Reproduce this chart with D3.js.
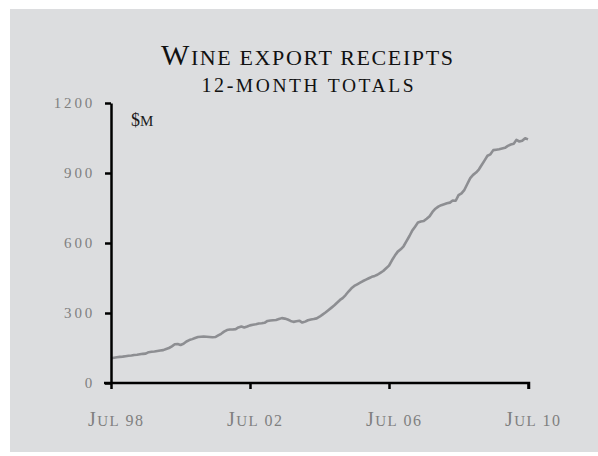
<!DOCTYPE html>
<html><head><meta charset="utf-8">
<script src="https://cdn.jsdelivr.net/npm/d3@7"></script>
<style>
html,body{margin:0;padding:0;background:#fff;}
svg text{font-family:"Liberation Serif","DejaVu Serif",serif;}
</style></head>
<body>
<svg id="chart" width="598" height="456"></svg>
<script>
const title = "Wine export receipts";
const subtitle = "12-month totals";
const unitLabel = "$m";
const startMonth = [1998, 6]; // July 1998
const values = [
106,108,110,112,113,115,117,118,120,121,123,125,
126,132,134,135,137,139,141,146,150,157,166,167,
163,168,178,184,188,193,197,198,199,198,197,196,
197,204,211,220,227,229,229,231,238,242,238,242,
247,250,252,255,256,258,266,268,269,270,274,278,
276,272,266,262,265,267,259,263,269,272,274,277,
284,293,302,312,322,332,344,356,364,377,392,406,
416,423,430,437,443,449,455,459,464,472,480,492,
503,526,546,563,573,586,608,630,652,670,688,692,
694,704,715,733,747,756,762,766,770,773,782,781,
805,813,828,853,878,892,902,916,934,954,974,980,
998,1000,1002,1005,1008,1016,1022,1025,1042,1035,1038,1049,
1044];
const yTicks = [0,300,600,900,1200];
const xTickDates = [new Date(1998,6,1), new Date(2002,6,1), new Date(2006,6,1), new Date(2010,6,1)];
const xTickLabels = ["Jul 98","Jul 02","Jul 06","Jul 10"];

const data = values.map((v,i)=>({date:new Date(startMonth[0], startMonth[1]+i, 1), value:v}));

// manual small caps: capitals big, lowercase as small capitals, other chars at 'other' size
function smallCaps(sel, str, big, small, other){
  sel.text(null);
  for (const ch of str){
    let size, t = ch;
    if (/[a-z]/.test(ch)) { size = small; t = ch.toUpperCase(); }
    else if (/[A-Z]/.test(ch)) size = big;
    else size = other;
    sel.append("tspan").attr("font-size", size).text(t);
  }
}

const svg = d3.select("#chart");
svg.append("rect").attr("x",10).attr("y",9).attr("width",588).attr("height",443).attr("fill","#dcdddf");

const x = d3.scaleTime().domain([xTickDates[0], xTickDates[3]]).range([111,528]);
const y = d3.scaleLinear().domain([0,1200]).range([383,103]);

const t1 = svg.append("text").attr("x",307).attr("y",65).attr("text-anchor","middle")
  .attr("fill","#111").attr("textLength",292).attr("lengthAdjust","spacing");
smallCaps(t1, title, 30, 22, 22);
const t2 = svg.append("text").attr("x",307.5).attr("y",92).attr("text-anchor","middle")
  .attr("fill","#111").attr("textLength",212).attr("lengthAdjust","spacing");
smallCaps(t2, subtitle, 20, 19.5, 20);
const t3 = svg.append("text").attr("x",131).attr("y",126).attr("fill","#1a1a1a");
smallCaps(t3, unitLabel, 18, 15, 18);

const line = d3.line().x(d=>x(d.date)).y(d=>y(d.value));
svg.append("path").datum(data).attr("d",line).attr("fill","none")
  .attr("stroke","#8d8e92").attr("stroke-width",2.6).attr("stroke-linejoin","round");

const yAxis = svg.append("g").attr("transform","translate(111,0)")
  .call(d3.axisLeft(y).tickValues(yTicks).tickSize(6).tickSizeOuter(0).tickPadding(13)
    .tickFormat(d3.format("d")));
const xAxis = svg.append("g").attr("transform","translate(0,383)")
  .call(d3.axisBottom(x).tickValues(xTickDates).tickSize(6).tickSizeOuter(0).tickPadding(30)
    .tickFormat((d,i)=>xTickLabels[i]));

[yAxis,xAxis].forEach(g=>{
  g.select(".domain").attr("stroke","#000").attr("stroke-width",2.5);
  g.selectAll(".tick line").attr("stroke","#000").attr("stroke-width",2.5);
  g.selectAll("text").attr("fill","#808080").attr("font-family","Liberation Serif");
});
yAxis.selectAll("text").attr("font-size",15).attr("letter-spacing",2.8).attr("dx",3);
xAxis.selectAll(".tick text").each(function(d,i){
  const s = d3.select(this).attr("dx",4).attr("textLength",55).attr("lengthAdjust","spacing");
  smallCaps(s, xTickLabels[i], 20, 15, 16);
});
xAxis.select(".domain").attr("d","M104,0H529V6");
</script>
</body></html>
